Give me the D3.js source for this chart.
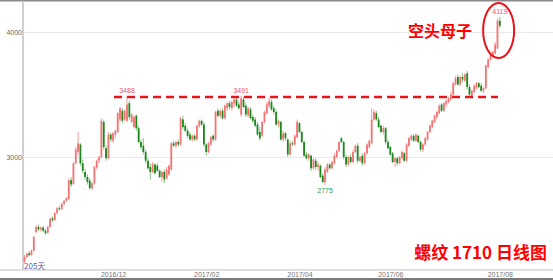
<!DOCTYPE html>
<html>
<head>
<meta charset="utf-8">
<script src="https://cdn.jsdelivr.net/npm/d3@7"></script>
<style>
body { margin: 0; background: #fff; }
svg { display: block; font-family: "Liberation Sans", Arial, sans-serif; }
</style>
</head>
<body>
<svg id="chart" width="553" height="280"></svg>
<script>
// daily candles [open, high, low, close]
var candles = [
  [2165,2215,2150,2200],[2200,2235,2190,2225],[2230,2245,2205,2215],[2215,2260,2210,2250],[2250,2370,2245,2360],
  [2400,2455,2390,2440],[2440,2460,2410,2420],[2420,2445,2405,2435],[2435,2450,2400,2410],[2410,2425,2380,2390],
  [2395,2450,2385,2440],[2440,2520,2435,2505],[2510,2525,2480,2495],[2495,2560,2490,2550],[2550,2600,2540,2590],
  [2590,2610,2570,2585],[2585,2635,2575,2625],[2625,2660,2610,2650],[2650,2680,2640,2670],[2665,2830,2655,2815],
  [2815,2840,2760,2780],[2785,2960,2775,2950],[2950,3080,2940,3060],[3040,3200,3020,3110],[3100,3110,2930,2950],
  [2950,2980,2870,2890],[2880,2905,2820,2840],[2840,2860,2780,2800],[2810,2830,2740,2750],[2750,2800,2735,2790],
  [2790,2930,2780,2920],[2915,2980,2900,2970],[2970,3010,2950,3000],[3000,3310,2990,3290],[3280,3300,3060,3080],
  [3070,3090,2970,2990],[2990,3200,2980,3180],[3180,3195,3120,3140],[3130,3200,3110,3190],[3180,3220,3150,3210],
  [3200,3360,3190,3350],[3300,3400,3280,3390],[3370,3390,3270,3290],[3300,3380,3290,3370],[3290,3488,3280,3420],
  [3430,3450,3300,3320],[3280,3350,3270,3340],[3240,3330,3230,3320],[3330,3340,3210,3230],[3230,3250,3110,3120],
  [3120,3140,3060,3080],[3090,3150,3020,3040],[3040,3060,2950,2970],[2970,2990,2900,2910],[2920,2950,2820,2880],
  [2880,2960,2870,2940],[2940,2950,2860,2870],[2930,2950,2880,2890],[2890,2900,2830,2840],[2840,2890,2800,2880],
  [2880,2900,2790,2820],[2830,2920,2820,2900],[2860,2940,2850,2930],[2900,3120,2890,3110],[3110,3130,3080,3090],
  [3090,3130,3070,3120],[3120,3140,3080,3100],[3100,3320,3090,3310],[3300,3330,3220,3240],[3250,3270,3200,3210],
  [3210,3230,3150,3170],[3180,3200,3130,3140],[3140,3180,3120,3170],[3170,3180,3130,3140],[3140,3260,3130,3250],
  [3250,3300,3230,3290],[3290,3300,3250,3260],[3260,3280,3080,3100],[3100,3110,3010,3040],[3040,3120,3030,3110],
  [3100,3170,3090,3160],[3170,3180,3120,3140],[3140,3370,3130,3360],[3370,3390,3320,3330],[3330,3380,3310,3370],
  [3370,3390,3300,3310],[3310,3420,3300,3410],[3390,3440,3370,3430],[3430,3450,3380,3400],[3390,3450,3370,3440],
  [3430,3480,3400,3460],[3460,3470,3400,3410],[3420,3440,3380,3390],[3340,3491,3320,3470],[3460,3480,3390,3400],
  [3410,3430,3320,3340],[3330,3400,3320,3390],[3380,3400,3300,3310],[3320,3340,3270,3290],[3300,3320,3240,3250],
  [3260,3280,3170,3180],[3200,3240,3130,3150],[3170,3290,3160,3280],[3280,3370,3270,3360],[3350,3440,3340,3420],
  [3410,3475,3390,3450],[3440,3460,3370,3380],[3390,3410,3340,3360],[3360,3380,3250,3260],[3260,3300,3240,3290],
  [3280,3290,3130,3140],[3140,3210,3120,3190],[3190,3200,3130,3150],[3140,3150,3000,3020],[3020,3130,3010,3110],
  [3110,3130,3090,3100],[3100,3180,3090,3170],[3160,3300,3150,3280],[3270,3280,3190,3200],[3200,3210,3110,3120],
  [3120,3130,3000,3010],[3020,3040,2980,2990],[2990,3030,2970,3020],[3010,3020,2890,2910],[2910,2990,2900,2980],
  [2970,2990,2900,2920],[2920,2960,2890,2940],[2930,2940,2830,2840],[2850,2870,2790,2800],[2800,2920,2775,2900],
  [2880,2950,2870,2940],[2940,2950,2900,2910],[2910,2970,2900,2960],[2950,3030,2940,3010],[3000,3060,2990,3050],
  [3050,3130,3040,3120],[3150,3160,3110,3120],[3120,3130,2980,3000],[3000,3020,2920,2940],[2940,3010,2930,3000],
  [3000,3020,2950,2960],[2960,3060,2950,3040],[3040,3100,3030,3090],[3090,3110,2950,2970],[2970,3010,2960,3000],
  [3010,3030,2930,2950],[2950,3040,2940,3030],[3030,3110,3020,3100],[3080,3140,3070,3130],[3110,3390,3100,3300],
  [3300,3380,3290,3360],[3350,3370,3290,3300],[3300,3320,3230,3240],[3250,3260,3190,3200],[3200,3250,3180,3230],
  [3230,3240,3100,3120],[3120,3140,3060,3070],[3080,3090,3010,3020],[3030,3040,2950,2960],[2960,3000,2920,2990],
  [2990,3000,2930,2950],[2950,3010,2940,3000],[2990,3050,2980,3040],[3030,3040,2960,2970],[2970,3110,2960,3100],
  [3090,3160,3080,3150],[3140,3180,3130,3170],[3170,3180,3120,3130],[3130,3190,3120,3180],[3170,3180,3110,3120],
  [3120,3130,3050,3060],[3060,3110,3040,3100],[3100,3160,3090,3150],[3140,3210,3130,3200],[3200,3260,3190,3250],
  [3240,3300,3230,3290],[3280,3340,3270,3330],[3320,3370,3300,3360],[3350,3420,3340,3410],[3420,3430,3360,3370],
  [3370,3440,3360,3430],[3420,3460,3400,3450],[3440,3480,3430,3470],[3460,3520,3450,3500],[3500,3600,3490,3590],
  [3580,3650,3570,3630],[3640,3660,3570,3580],[3580,3650,3570,3640],[3640,3670,3600,3620],[3610,3670,3600,3660],
  [3670,3690,3540,3560],[3560,3580,3490,3500],[3480,3540,3470,3530],[3520,3580,3510,3570],[3550,3600,3540,3590],
  [3590,3600,3550,3560],[3570,3590,3520,3530],[3530,3560,3510,3550],[3550,3740,3540,3730],[3720,3790,3710,3780],
  [3780,3830,3770,3820],[3810,3850,3800,3840],[3830,3920,3820,3900],[3870,4110,3860,4090],[4090,4119,4030,4050]
];

var tickIdx = [38, 78, 118, 157, 204];
var tickLabels = ["2016/12", "2017/02", "2017/04", "2017/06", "2017/08"];
var yTicks = [3000, 4000];

// marked highs / lows
var extremeIdx = [44, 93, 129, 204];
var extremeVal = [3488, 3491, 2775, 4119];
var extremeType = ["high", "high", "low", "high"];

var resistance = 3488, resFrom = 38, resTo = 203;

var W = 553, H = 280;
var svg = d3.select("#chart");

var x = d3.scaleLinear().domain([0, candles.length - 1]).range([24.5, 499.8]);
var y = d3.scaleLinear().domain([2096, 4248]).range([270, 1]);

var upColor = "#f37474", upWick = "#f59c9c";
var downColor = "#1c871c", downWick = "#86c086";

// frame
svg.append("rect").attr("x", 0).attr("y", 0).attr("width", W).attr("height", 1.5).attr("fill", "#8a8a8a");
svg.append("rect").attr("x", 0).attr("y", 278).attr("width", W).attr("height", 2).attr("fill", "#7a7a7a");

// y axis with grid lines
var yAxis = svg.append("g")
  .attr("transform", "translate(23,0)")
  .call(d3.axisLeft(y).tickValues(yTicks).tickSize(-(W - 23)).tickPadding(1).tickFormat(d3.format("d")));
yAxis.select(".domain").remove();
yAxis.selectAll(".tick line").attr("stroke", "#e9e9e9");
yAxis.selectAll(".tick text").attr("fill", "#666").style("font-size", "7px");

svg.append("line").attr("x1", 23).attr("x2", 23).attr("y1", 1).attr("y2", 270)
  .attr("stroke", "#d0d0d0").attr("stroke-width", 2);
svg.append("line").attr("x1", 0).attr("x2", W).attr("y1", 270).attr("y2", 270)
  .attr("stroke", "#d4d4d4").attr("stroke-width", 1.5);

// x axis labels
var xAxis = svg.append("g")
  .attr("transform", "translate(0,270)")
  .call(d3.axisBottom(x).tickValues(tickIdx).tickSize(0).tickPadding(2)
    .tickFormat(function(d, i) { return tickLabels[i]; }));
xAxis.select(".domain").remove();
xAxis.selectAll(".tick text").attr("fill", "#777").style("font-size", "7px");

// candles
var g = svg.append("g");
candles.forEach(function(c, i) {
  var up = c[3] >= c[0];
  var cx = x(i);
  g.append("line")
    .attr("x1", cx).attr("x2", cx)
    .attr("y1", y(c[1])).attr("y2", y(c[2]))
    .attr("stroke", up ? upWick : downWick).attr("stroke-width", 1);
  var top = y(Math.max(c[0], c[3])), bot = y(Math.min(c[0], c[3]));
  g.append("rect")
    .attr("x", cx - 0.9).attr("width", 1.8)
    .attr("y", top).attr("height", Math.max(1, bot - top))
    .attr("fill", up ? upColor : downColor);
});

// resistance line
svg.append("line")
  .attr("x1", x(resFrom) + 1).attr("x2", x(resTo) + 0.5)
  .attr("y1", y(resistance) + 1).attr("y2", y(resistance) + 1)
  .attr("stroke", "#e8141a").attr("stroke-width", 2.5)
  .attr("stroke-dasharray", "8,5");

// extreme labels
extremeIdx.forEach(function(idx, k) {
  var hi = extremeType[k] == "high";
  svg.append("text")
    .attr("x", x(idx))
    .attr("y", hi ? y(extremeVal[k]) - 3 : y(extremeVal[k]) + 8)
    .attr("text-anchor", "middle")
    .attr("fill", hi ? "#f2555c" : "#3a9a3a")
    .style("font-size", "7px")
    .text(extremeVal[k]);
});

// day count
svg.append("text").attr("x", 24).attr("y", 269)
  .attr("fill", "#5858a8").style("font-size", "8px")
  .style("font-family", "'Noto Sans CJK SC', sans-serif")
  .text("205天");

// annotations
svg.append("ellipse")
  .attr("cx", x(203.5)).attr("cy", y(4012))
  .attr("rx", 15.5).attr("ry", 27.5)
  .attr("fill", "none").attr("stroke", "#e8141a").attr("stroke-width", 2);

svg.append("text").attr("x", 440).attr("y", 37)
  .attr("text-anchor", "middle").attr("fill", "#f00")
  .style("font-size", "16px").style("font-weight", "bold")
  .style("font-family", "'Noto Sans CJK SC', sans-serif")
  .text("空头母子");

svg.append("text").attr("x", 547).attr("y", 259)
  .attr("text-anchor", "end").attr("fill", "#f00")
  .style("font-size", "17px").style("font-weight", "bold")
  .style("font-family", "'Noto Sans CJK SC', sans-serif")
  .text("螺纹 1710 日线图");
</script>
</body>
</html>
